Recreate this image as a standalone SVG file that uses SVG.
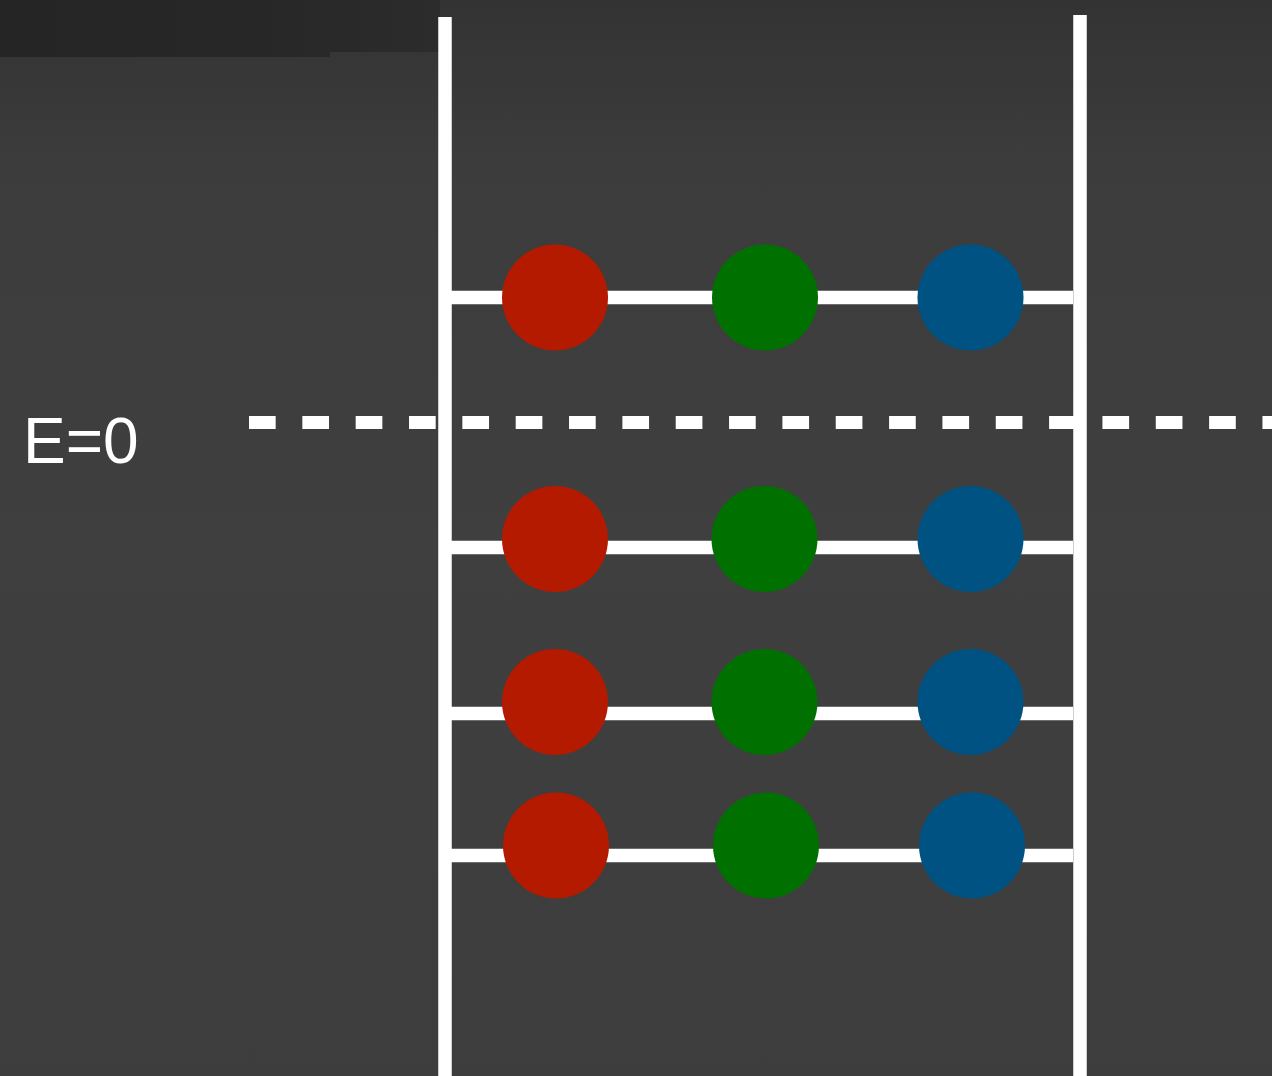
<svg xmlns="http://www.w3.org/2000/svg" width="1272" height="1076" viewBox="0 0 1272 1076">
  <defs>
    <linearGradient id="bg" x1="0" y1="0" x2="0" y2="1">
      <stop offset="0" stop-color="#333333"/>
      <stop offset="0.15" stop-color="#3c3c3c"/>
      <stop offset="0.5" stop-color="#3f3f3f"/>
      <stop offset="1" stop-color="#3d3d3d"/>
    </linearGradient>
    <linearGradient id="topband" x1="0" y1="0" x2="1" y2="0">
      <stop offset="0" stop-color="#252525"/>
      <stop offset="0.6" stop-color="#272727"/>
      <stop offset="1" stop-color="#2c2c2c"/>
    </linearGradient>
  </defs>
  <style>
    .rail { stroke: #ffffff; stroke-width: 13.5; fill: none; }
    .rung { stroke: #ffffff; stroke-width: 13.5; fill: none; }
    .zero { stroke: #ffffff; stroke-width: 13; stroke-dasharray: 26.67 26.67; fill: none; }
    .red { fill: #b41a00; }
    .green { fill: #007000; }
    .blue { fill: #005282; }
    .label { font-family: "Liberation Sans", Arial, sans-serif; font-size: 64px; fill: #ffffff; }
  </style>
  <rect x="0" y="0" width="1272" height="1076" fill="url(#bg)"/>
  <path d="M0 0 H440 V52 H330 V57 H0 Z" fill="url(#topband)"/>

  <g id="connectors">
    <line class="rail" x1="445" y1="17" x2="445" y2="1076"/>
    <line class="rail" x1="1080" y1="15" x2="1080" y2="1076"/>
    <line class="rung" x1="445" y1="297.5" x2="1073" y2="297.5"/>
    <line class="rung" x1="445" y1="547.5" x2="1073" y2="547.5"/>
    <line class="rung" x1="445" y1="713.5" x2="1073" y2="713.5"/>
    <line class="rung" x1="445" y1="855.5" x2="1073" y2="855.5"/>
    <line class="zero" x1="249" y1="422.5" x2="1272" y2="422.5"/>
  </g>

  <g id="label-e0">
    <text class="label" x="23" y="463">E=0</text>
  </g>

  <g id="level1">
    <circle id="l1-red" class="red" cx="555" cy="297.5" r="53"/>
    <circle id="l1-green" class="green" cx="765" cy="297.5" r="53"/>
    <circle id="l1-blue" class="blue" cx="970.5" cy="297.5" r="53"/>
  </g>
  <g id="level2">
    <circle id="l2-red" class="red" cx="555" cy="539" r="53"/>
    <circle id="l2-green" class="green" cx="764.5" cy="539" r="53"/>
    <circle id="l2-blue" class="blue" cx="970.5" cy="539" r="53"/>
  </g>
  <g id="level3">
    <circle id="l3-red" class="red" cx="555" cy="702" r="53"/>
    <circle id="l3-green" class="green" cx="764.5" cy="702" r="53"/>
    <circle id="l3-blue" class="blue" cx="970.5" cy="702" r="53"/>
  </g>
  <g id="level4">
    <circle id="l4-red" class="red" cx="556" cy="845.5" r="53"/>
    <circle id="l4-green" class="green" cx="766" cy="845.5" r="53"/>
    <circle id="l4-blue" class="blue" cx="972" cy="845.5" r="53"/>
  </g>
</svg>
